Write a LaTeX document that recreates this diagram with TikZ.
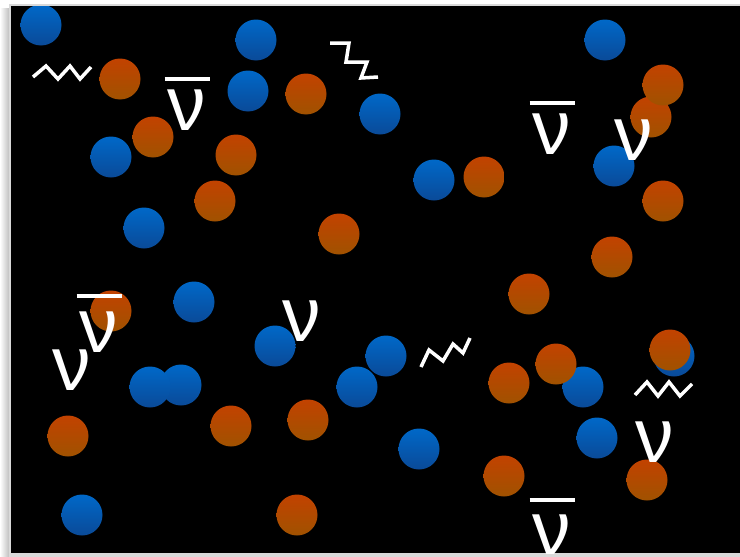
\documentclass[tikz,border=0pt]{standalone}
\usepackage{fontspec}
\newfontfamily\nufont{Liberation Sans}
\usetikzlibrary{calc}

\definecolor{bluetop}{RGB}{0,104,200}
\definecolor{bluebot}{RGB}{10,74,152}
\definecolor{orgtop}{RGB}{194,66,0}
\definecolor{orgbot}{RGB}{160,82,0}

\tikzset{
    ball/.style={circle, minimum size=41pt, inner sep=0pt},
    blueball/.style={ball, top color=bluetop, bottom color=bluebot},
    orgball/.style={ball, top color=orgtop, bottom color=orgbot},
    nu/.style={text=white, inner sep=0pt, font=\nufont\fontsize{77}{77}\selectfont},
    nubar/.style={white, line width=4pt},
    photon/.style={white, line width=3.5pt}
}

\begin{document}
\begin{tikzpicture}[x=1pt, y=-1pt]
    % 画布与边框
    \useasboundingbox (0,0) rectangle (740,557);
    \fill[white] (0,0) rectangle (740,557);
    \shade[left color=white, right color=gray!55] (0,8) rectangle (10,557);
    \fill[gray!30] (9,4) rectangle (740,557);
    \coordinate (TL) at (11,6);
    \coordinate (BR) at (741,553);
    \fill[black] (TL) rectangle (BR);

    \begin{scope}
    \clip (TL) rectangle (BR);

    % 蓝色粒子
    \foreach \x/\y [count=\i] in {41/25, 256/40, 248/91, 380/114, 111/157,
        144/228, 434/180, 605/40, 614/166, 194/302, 275/346, 386/356,
        357/387, 181/385, 150/387, 419/449, 583/387, 597/438, 674/356, 82/515}
        \node[blueball] (b\i) at (\x,\y) {};

    % 橙色粒子
    \foreach \x/\y [count=\i] in {120/79, 306/94, 153/137, 236/155, 215/201,
        339/234, 484/177, 651/117, 663/85, 663/201, 612/257, 529/294,
        111/311, 68/436, 231/426, 308/420, 509/383, 556/364, 670/350,
        504/476, 647/480, 297/515}
        \node[orgball] (o\i) at (\x,\y) {};

    % 光子
    \draw[photon] (33,77) -- (46,66) -- (58,79) -- (70,66) -- (80,79) -- (91,67);
    \draw[photon] (330,43) -- (349,43) -- (346,62) -- (367,62) -- (361,78) -- (378,77);
    \draw[photon] (421,367) -- (429,350) -- (443,361) -- (453,344) -- (463,353) -- (470,338);
    \draw[photon] (635,395) -- (647,382) -- (658,396) -- (669,382) -- (680,396) -- (692,384);

    % 中微子
    \foreach \x/\y [count=\i] in {302/321, 634/140, 72/370, 655/442}
        \node[nu] (n\i) at (\x,\y) {ν};

    % 反中微子
    \foreach \x/\y/\g [count=\i] in {187/110/10, 552/134/10, 99/332/15, 552/535/14}
    {
        \node[nu] (a\i) at (\x,\y) {ν};
        \draw[nubar] ($(a\i.north)+(-22.5,-\g)$) -- ++(45,0);
    }
    \end{scope}
\end{tikzpicture}
\end{document}
